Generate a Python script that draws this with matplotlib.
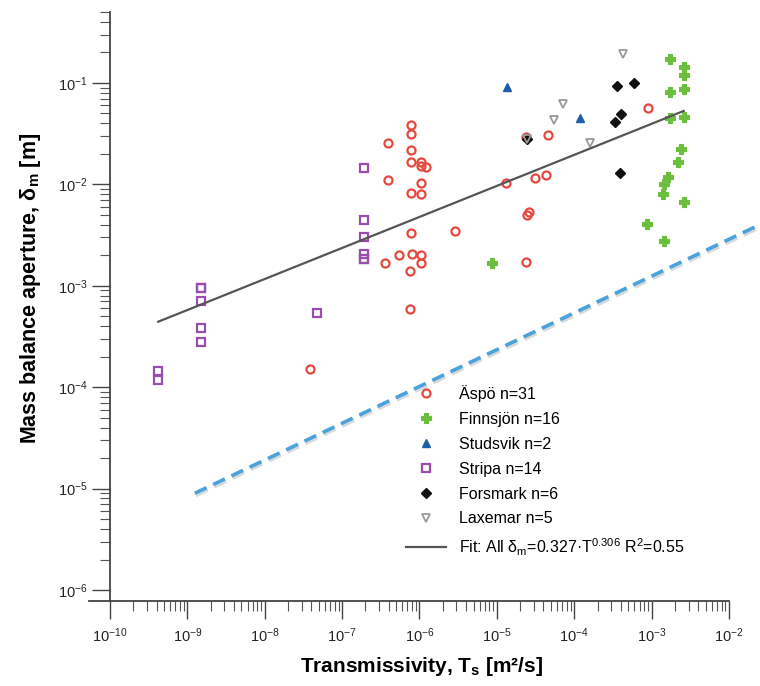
import matplotlib
matplotlib.use("Agg")
import matplotlib.pyplot as plt
import matplotlib.patheffects as pe
from matplotlib.ticker import FixedLocator, NullFormatter, LogFormatterSciNotation
import numpy as np

plt.rcParams['font.family'] = ['Liberation Sans', 'DejaVu Sans']
plt.rcParams['mathtext.fontset'] = 'custom'
plt.rcParams['mathtext.rm'] = 'Liberation Sans'
plt.rcParams['mathtext.default'] = 'regular'
plt.rcParams['axes.unicode_minus'] = False

# --- data (T_s in m2/s, delta_m in m) ---
aspo_T = [7.7e-7, 7.7e-7, 3.9e-7, 7.7e-7, 7.7e-7, 1.05e-6, 1.05e-6, 1.21e-6,
          3.9e-7, 1.05e-6, 7.7e-7, 1.05e-6, 7.8e-7, 2.9e-6, 5.5e-7, 7.9e-7,
          1.05e-6, 3.6e-7, 1.05e-6, 7.5e-7, 7.5e-7, 3.8e-8, 2.4e-5, 4.6e-5,
          1.3e-5, 3.1e-5, 4.3e-5, 2.46e-5, 2.6e-5, 2.4e-5, 8.9e-4]
aspo_d = [3.84e-2, 3.17e-2, 2.53e-2, 2.19e-2, 1.67e-2, 1.67e-2, 1.51e-2, 1.49e-2,
          1.11e-2, 1.02e-2, 8.3e-3, 8.0e-3, 3.32e-3, 3.47e-3, 2.0e-3, 2.06e-3,
          2.03e-3, 1.66e-3, 1.66e-3, 1.40e-3, 5.9e-4, 1.51e-4, 2.94e-2, 3.03e-2,
          1.02e-2, 1.16e-2, 1.24e-2, 5.0e-3, 5.3e-3, 1.72e-3, 5.7e-2]

finn_T = [8.6e-6, 1.72e-3, 2.61e-3, 2.61e-3, 1.72e-3, 2.61e-3, 1.72e-3, 2.61e-3,
          2.43e-3, 2.2e-3, 1.62e-3, 1.44e-3, 1.41e-3, 2.61e-3, 8.6e-4, 1.44e-3]
finn_d = [1.67e-3, 0.171, 0.144, 0.119, 0.0815, 0.0879, 0.0455, 0.0462,
          0.0221, 0.0167, 0.0117, 0.0101, 8.0e-3, 6.7e-3, 4.1e-3, 2.74e-3]

stud_T = [1.37e-5, 1.19e-4]
stud_d = [0.092, 0.0453]

strip_T = [4.2e-10, 4.2e-10, 1.48e-9, 1.48e-9, 1.48e-9, 1.48e-9, 1.48e-9,
           4.7e-8, 1.9e-7, 1.9e-7, 1.9e-7, 1.9e-7, 1.9e-7, 1.9e-7]
strip_d = [1.46e-4, 1.19e-4, 9.6e-4, 9.6e-4, 7.0e-4, 3.8e-4, 2.8e-4,
           5.4e-4, 1.46e-2, 4.5e-3, 3.05e-3, 2.07e-3, 1.85e-3, 1.85e-3]

fors_T = [2.46e-5, 3.6e-4, 6.0e-4, 4.0e-4, 3.35e-4, 3.96e-4]
fors_d = [0.0277, 0.0929, 0.0993, 0.0492, 0.0413, 0.0128]

laxe_T = [4.28e-4, 7.1e-5, 5.4e-5, 1.62e-4, 2.46e-5]
laxe_d = [0.194, 0.0625, 0.0435, 0.0253, 0.0277]

# fit: delta_m = 0.327 * T^0.306, drawn over the data range
fit_a, fit_b = 0.327, 0.306
fit_T = [4.2e-10, 2.6e-3]

# blue dashed reference line (end points)
ref_T = [1.25e-9, 2.5e-2]
ref_d = [9.0e-6, 4.0e-3]

x_decades = np.arange(-10, -1)   # 1e-10 .. 1e-2
y_decades = np.arange(-6, 0)     # 1e-6 .. 1e-1

fig = plt.figure(figsize=(7.6, 6.86), dpi=100)
ax = fig.add_axes([89 / 760, 85 / 686, 640 / 760, 589 / 686])
ax.set_xscale('log')
ax.set_yscale('log')
ax.set_xlim(10 ** -10.271, 1e-2)
ax.set_ylim(10 ** -6.108, 0.5)

ms = 5.8
ax.plot(aspo_T, aspo_d, 'o', ms=ms, mfc='none', mec='#e5483e', mew=1.6,
        ls='none', label='Äspö n=31')
ax.plot(finn_T, finn_d, 'P', ms=ms + 1.0, color='#6cbf3c', mec='#6cbf3c',
        mew=0.8, ls='none', label='Finnsjön n=16')
ax.plot(stud_T, stud_d, '^', ms=ms, color='#1e5fa6', ls='none',
        label='Studsvik n=2')
ax.plot(strip_T, strip_d, 's', ms=ms - 0.4, mfc='none', mec='#9a4db0', mew=1.6,
        ls='none', label='Stripa n=14')
ax.plot(fors_T, fors_d, 'D', ms=ms - 1.1, color='#111111', ls='none',
        label='Forsmark n=6')
ax.plot(laxe_T, laxe_d, 'v', ms=ms, mfc='none', mec='#999999', mew=1.3,
        ls='none', label='Laxemar n=5')

fT = np.array(fit_T)
ax.plot(fT, fit_a * fT ** fit_b, color='#555555', lw=1.6, zorder=5,
        label=r'Fit: All δ$_m$=0.327·T$^{0.306}$ R$^2$=0.55')

ax.plot(ref_T, ref_d, color='#4aa3dc', lw=2.6, dashes=(3.6, 2.0), clip_on=False,
        path_effects=[pe.SimpleLineShadow(offset=(0.8, -1.6), alpha=0.22,
                                          shadow_color='#555555'),
                      pe.Normal()])

# only left and bottom spines, y spine sitting at T = 1e-10
for s in ['top', 'right']:
    ax.spines[s].set_visible(False)
ax.spines['left'].set_position(('data', 1e-10))
for s in ['left', 'bottom']:
    ax.spines[s].set_color('#444444')
    ax.spines[s].set_linewidth(1.3)

x_minor = [m * 10.0 ** d for d in x_decades[:-1] for m in range(2, 10)]
y_minor = [m * 10.0 ** d for d in y_decades for m in range(2, 10) if m * 10.0 ** d <= 0.5]
ax.xaxis.set_major_locator(FixedLocator(10.0 ** x_decades))
ax.xaxis.set_minor_locator(FixedLocator(x_minor))
ax.yaxis.set_major_locator(FixedLocator(10.0 ** y_decades))
ax.yaxis.set_minor_locator(FixedLocator(y_minor))
ax.xaxis.set_major_formatter(LogFormatterSciNotation())
ax.yaxis.set_major_formatter(LogFormatterSciNotation())
ax.xaxis.set_minor_formatter(NullFormatter())
ax.yaxis.set_minor_formatter(NullFormatter())

ax.tick_params(which='major', direction='out', length=13, width=1.0,
               color='#444444', labelsize=10.5, labelcolor='#222222')
ax.tick_params(which='minor', direction='out', length=7, width=0.8, color='#555555')
ax.tick_params(axis='x', which='major', pad=5)
ax.tick_params(axis='y', which='major', pad=3)

ax.set_xlabel('Transmissivity, T$_s$ [m²/s]', fontsize=15, fontweight='bold')
ax.set_ylabel('Mass balance aperture, δ$_m$ [m]', fontsize=15.5, fontweight='bold')
ax.xaxis.set_label_coords(0.52, -0.092)
ax.yaxis.set_label_coords(-0.072, 0.53)

ax.legend(loc='upper left', bbox_to_anchor=(406 / 760, 1 - 385 / 686),
          bbox_transform=fig.transFigure, frameon=False, fontsize=11.5,
          handlelength=2.5, handletextpad=0.8, labelspacing=0.62,
          borderpad=0, borderaxespad=0, numpoints=1)

fig.savefig('out.png', dpi=100)
